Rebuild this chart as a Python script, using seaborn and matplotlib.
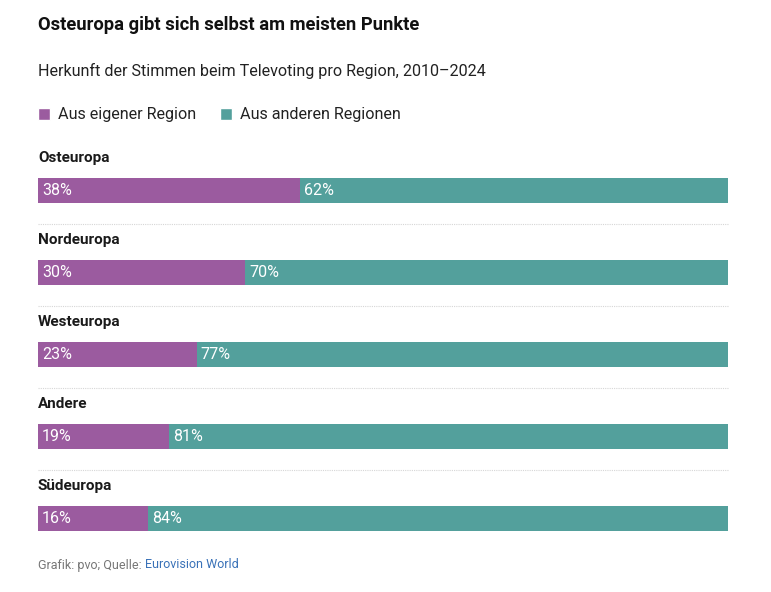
import matplotlib.pyplot as plt
import pandas as pd
import seaborn as sns
from matplotlib.patches import Patch

# Daten
regionen = ["Osteuropa", "Nordeuropa", "Westeuropa", "Andere", "Südeuropa"]
eigene = [38, 30, 23, 19, 16]
andere = [62, 70, 77, 81, 84]

LILA = "#9b5b9f"
TUERKIS = "#53a09c"

sns.set_theme(style="white")
plt.rcParams['font.family'] = ['Roboto', 'DejaVu Sans']

df = pd.DataFrame({"Region": regionen, "eigen": eigene, "andere": andere})
df["gesamt"] = df["eigen"] + df["andere"]

fig = plt.figure(figsize=(7.71, 5.92), dpi=100)
ax = fig.add_axes([38 / 771, 0.0557, 690 / 771, 0.7064])

sns.barplot(data=df, y="Region", x="gesamt", color=TUERKIS, orient="h",
            width=0.305, ax=ax, saturation=1, linewidth=0)
sns.barplot(data=df, y="Region", x="eigen", color=LILA, orient="h",
            width=0.305, ax=ax, saturation=1, linewidth=0)

ax.set_xlim(0, 100)
ax.set_ylim(4.5, -0.6)
ax.axis("off")

for i, row in df.iterrows():
    # Regionsname über dem Balken
    ax.text(0, i - 0.39, row["Region"], fontsize=11, fontweight="bold",
            color="#1a1a1a", ha="left", va="center")
    ax.annotate(f"{row['eigen']}%", (0, i), xytext=(3, 0), textcoords="offset points",
                color="white", fontsize=11.5, ha="left", va="center")
    ax.annotate(f"{row['andere']}%", (row["eigen"], i), xytext=(3, 0), textcoords="offset points",
                color="white", fontsize=11.5, ha="left", va="center")
    # gepunktete Trennlinie
    if i < len(df) - 1:
        ax.plot([0, 100], [i + 0.415, i + 0.415], color="#d6d6d6", lw=0.8,
                linestyle=(0, (1, 1)), clip_on=False)

fig.text(38 / 771, 1 - 25 / 592, "Osteuropa gibt sich selbst am meisten Punkte",
         fontsize=13.2, fontweight="bold", color="#111111", va="center")
fig.text(38 / 771, 1 - 71 / 592, "Herkunft der Stimmen beim Televoting pro Region, 2010–2024",
         fontsize=11.6, color="#222222", va="center")

handles = [Patch(facecolor=LILA, label="Aus eigener Region"),
           Patch(facecolor=TUERKIS, label="Aus anderen Regionen")]
fig.legend(handles=handles, loc="center left", bbox_to_anchor=(23 / 771, 1 - 115 / 592),
           ncol=2, frameon=False, fontsize=11.6, handlelength=0.75, handleheight=0.75,
           handletextpad=0.5, columnspacing=1.5, labelcolor="#222222")

t = fig.text(38 / 771, 1 - 565 / 592, "Grafik: pvo; Quelle: ", fontsize=9,
             color="#777777", va="center", fontstretch="condensed")
fig.canvas.draw()
bb = t.get_window_extent()
fig.text(bb.x1 / fig.bbox.width, 1 - 565 / 592, "Eurovision World", fontsize=9,
         color="#3a72b8", va="center")

fig.savefig("out.png", dpi=100)
